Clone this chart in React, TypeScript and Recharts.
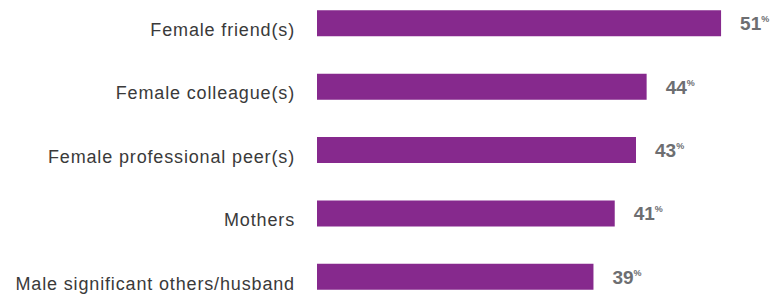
import { Bar, BarChart, LabelList, XAxis, YAxis } from "recharts"

const categories = [
  "Female friend(s)",
  "Female colleague(s)",
  "Female professional peer(s)",
  "Mothers",
  "Male significant others/husband",
]
const shares = [51, 44, 43, 41, 39]

const data = categories.map((name, i) => ({ name, share: shares[i] }))

const PURPLE = "#86298d"

function CategoryTick(props: any) {
  const { x, y, payload } = props
  return (
    <text
      x={x}
      y={y + 13}
      textAnchor="end"
      fill="#3a3a3a"
      fontSize={18}
      letterSpacing={0.85}
      fontFamily="Liberation Sans, Arial, sans-serif"
    >
      {payload.value}
    </text>
  )
}

function ValueLabel(props: any) {
  const { x, y, width, height, value } = props
  return (
    <text
      x={x + width + 19}
      y={y + height / 2 + 7}
      fill="#6d6e71"
      fontFamily="Liberation Sans, Arial, sans-serif"
      fontWeight={700}
      fontSize={19}
    >
      {value}
      <tspan fontSize={9} dy={-8} fontWeight={700}>
        %
      </tspan>
    </text>
  )
}

export default function App() {
  return (
    <div style={{ position: "absolute", left: 0, top: 0, background: "#fff" }}>
      <BarChart
        width={776}
        height={295}
        data={data}
        layout="vertical"
        margin={{ top: -8.7, right: 12.4, bottom: -13.2, left: 0 }}
      >
        <XAxis type="number" domain={[13, 55]} hide />
        <YAxis
          type="category"
          dataKey="name"
          width={317}
          axisLine={false}
          tickLine={false}
          tickMargin={16}
          tick={<CategoryTick />}
        />
        <Bar dataKey="share" fill={PURPLE} barSize={26} isAnimationActive={false}>
          <LabelList dataKey="share" content={<ValueLabel />} />
        </Bar>
      </BarChart>
    </div>
  )
}
